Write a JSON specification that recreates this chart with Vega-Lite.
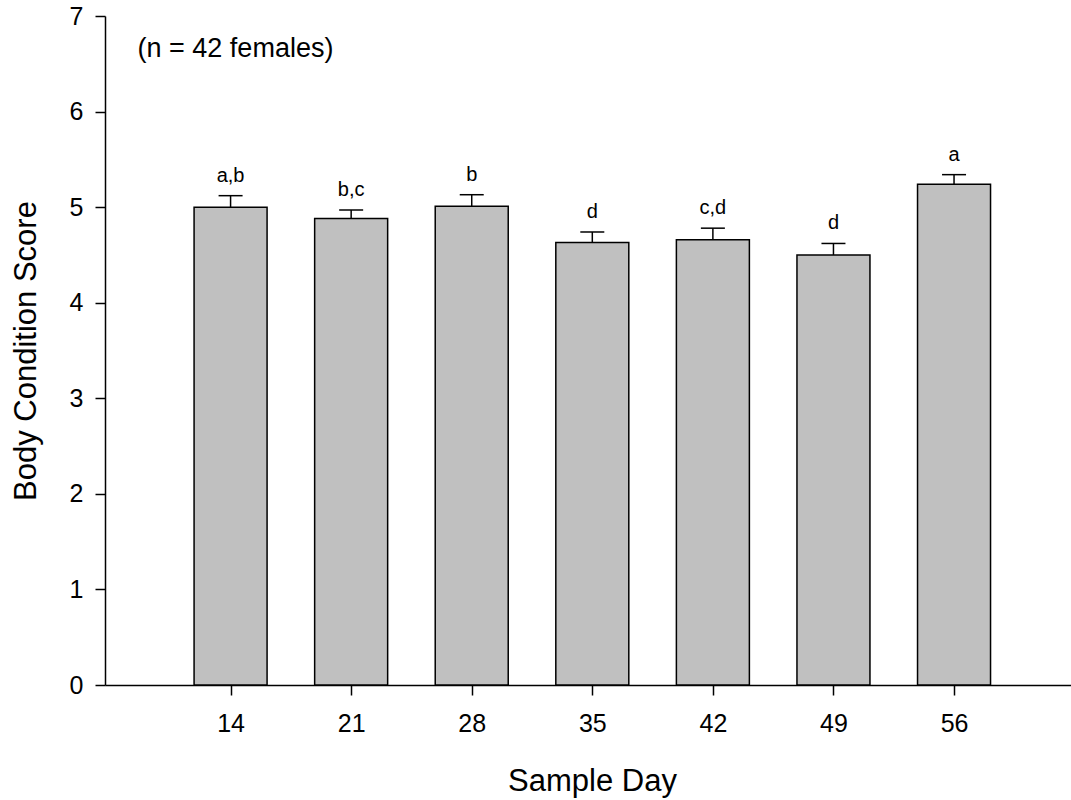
{
  "$schema": "https://vega.github.io/schema/vega-lite/v6.json",
  "width": 966,
  "height": 669,
  "autosize": {"type": "none"},
  "padding": {"left": 105, "top": 16, "right": 0, "bottom": 115},
  "background": "white",
  "config": {
    "view": {"stroke": null},
    "font": "Liberation Sans",
    "axis": {
      "grid": false,
      "domainColor": "black",
      "domainWidth": 1.5,
      "tickColor": "black",
      "tickWidth": 1.5,
      "tickSize": 10,
      "labelFont": "Liberation Sans",
      "labelFontSize": 25,
      "labelColor": "black",
      "labelFlush": false,
      "labelOverlap": false,
      "titleFont": "Liberation Sans",
      "titleFontSize": 31,
      "titleFontWeight": "normal",
      "titleColor": "black"
    }
  },
  "data": {
    "values": [
      {"day": 14, "score": 5.00, "upper": 5.12, "letter": "a,b"},
      {"day": 21, "score": 4.88, "upper": 4.97, "letter": "b,c"},
      {"day": 28, "score": 5.01, "upper": 5.13, "letter": "b"},
      {"day": 35, "score": 4.63, "upper": 4.74, "letter": "d"},
      {"day": 42, "score": 4.66, "upper": 4.78, "letter": "c,d"},
      {"day": 49, "score": 4.50, "upper": 4.62, "letter": "d"},
      {"day": 56, "score": 5.24, "upper": 5.34, "letter": "a"}
    ]
  },
  "encoding": {
    "x": {
      "field": "day",
      "type": "quantitative",
      "scale": {"domain": [7, 62.5], "nice": false, "zero": false},
      "axis": {
        "values": [14, 21, 28, 35, 42, 49, 56],
        "title": "Sample Day",
        "labelPadding": 16,
        "titleX": 487,
        "titleY": 105,
        "titleBaseline": "alphabetic"
      }
    },
    "y": {
      "field": "score",
      "type": "quantitative",
      "scale": {"domain": [0, 7], "nice": false},
      "axis": {
        "values": [0, 1, 2, 3, 4, 5, 6, 7],
        "title": "Body Condition Score",
        "labelPadding": 12,
        "titleX": -70,
        "titleY": 334.5,
        "titleBaseline": "alphabetic"
      }
    }
  },
  "layer": [
    {
      "mark": {"type": "rule", "color": "black", "strokeWidth": 1.5},
      "encoding": {"y2": {"field": "upper"}}
    },
    {
      "mark": {"type": "tick", "orient": "horizontal", "size": 24, "thickness": 1.5, "color": "black", "opacity": 1},
      "encoding": {"y": {"field": "upper", "type": "quantitative"}}
    },
    {
      "mark": {"type": "bar", "size": 73, "fill": "#c0c0c0", "stroke": "black", "strokeWidth": 1.5}
    },
    {
      "mark": {"type": "text", "dy": -14, "baseline": "alphabetic", "align": "center", "fontSize": 20, "color": "black"},
      "encoding": {"y": {"field": "upper", "type": "quantitative"}, "text": {"field": "letter"}}
    },
    {
      "transform": [{"filter": "datum.day == 14"}],
      "mark": {"type": "text", "align": "left", "baseline": "alphabetic", "fontSize": 27, "color": "black"},
      "encoding": {
        "x": {"datum": 8.6},
        "y": {"datum": 6.57},
        "text": {"value": "(n = 42 females)"}
      }
    }
  ]
}
